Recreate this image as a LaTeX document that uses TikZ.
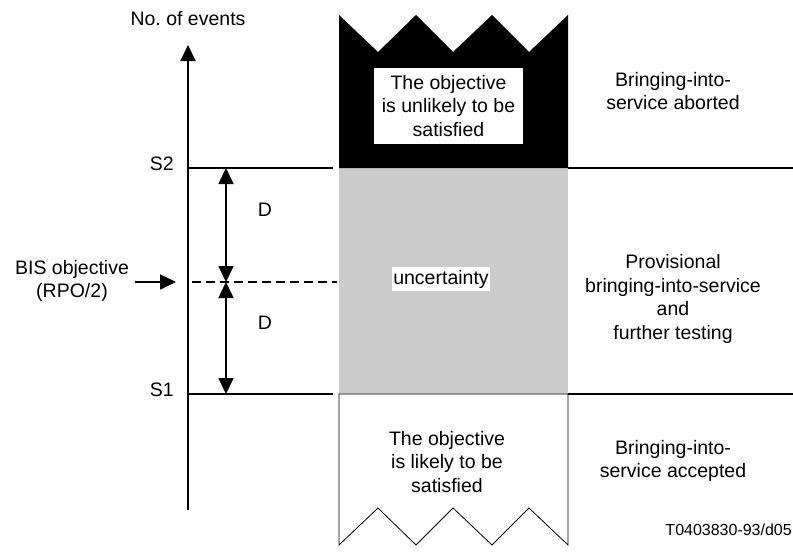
\documentclass[tikz,border=0pt]{standalone}
\usepackage{fontspec}
\setmainfont{Liberation Sans}
\usetikzlibrary{arrows.meta}
\frenchspacing
\begin{document}
\begin{tikzpicture}[x=1pt,y=-1pt,
  lbl/.style={font=\fontsize{19.5}{23.5}\selectfont, align=center, inner sep=0pt},
  smalllbl/.style={font=\fontsize{16}{19}\selectfont, inner sep=0pt},
  thickline/.style={line width=2pt},
  tip/.style={-{Triangle[length=16pt,width=15pt]}},
  dbl/.style={{Triangle[length=16pt,width=15pt]}-{Triangle[length=16pt,width=15pt]}, line width=1.6pt}
]
\useasboundingbox (0,0) rectangle (793,555);

% axis
\coordinate (axbot) at (188,510);
\coordinate (axtop) at (188,45);
\draw[thickline, tip] (axbot) -- (axtop);
\node[lbl] (events) at (188,19) {No. of events};

% gray uncertainty region
\fill[black!20] (339,168) rectangle (568,394);
\node[lbl, fill=white, inner xsep=1pt, inner ysep=3pt] (unc) at (441,279) {uncertainty};

% black top block
\fill[black] (339,168) -- (339,15) -- (378,52) -- (416,15) -- (453,52) -- (492,15) -- (529,52) -- (568,15) -- (568,168) -- cycle;
\node[lbl, fill=white, minimum width=149pt, minimum height=76pt] (unlikely) at (448.5,106) {The objective\\is unlikely to be\\satisfied};

% white bottom block
\draw[line width=0.8pt] (339,394) -- (339,545) -- (378,508) -- (416,545) -- (453,508) -- (492,545) -- (529,508) -- (568,545) -- (568,394) -- cycle;
\node[lbl] (likely) at (447,462) {The objective\\is likely to be\\satisfied};

% threshold lines
\coordinate (s2a) at (188,168);
\coordinate (s2b) at (333,168);
\coordinate (s2c) at (568,168);
\coordinate (s2d) at (793,168);
\coordinate (s1a) at (188,394);
\coordinate (s1b) at (333,394);
\coordinate (s1c) at (568,394);
\coordinate (s1d) at (793,394);
\draw[thickline] (s2a) -- (s2b);
\draw[thickline] (s2c) -- (s2d);
\draw[thickline] (s1a) -- (s1b);
\draw[thickline] (s1c) -- (s1d);
\node[lbl, anchor=east] (S2) at (174,164) {S2};
\node[lbl, anchor=east] (S1) at (174,390) {S1};

% BIS objective dashed line
\coordinate (bisa) at (192,282);
\coordinate (bisb) at (337,282);
\draw[line width=1.5pt, dash pattern=on 9pt off 5pt] (bisa) -- (bisb);
\node[lbl] (bis) at (72,281) {BIS objective\\(RPO/2)};
\coordinate (bisarr) at (135,282);
\coordinate (bistip) at (176,282);
\draw[line width=1.6pt, tip] (bisarr) -- (bistip);

% D arrows
\coordinate (dtop) at (226,168);
\coordinate (dmid) at (226,282);
\coordinate (dbot) at (226,394);
\draw[dbl] (dtop) -- (dmid);
\draw[dbl] (dmid) -- (dbot);
\node[lbl] (d1) at (265,210) {D};
\node[lbl] (d2) at (265,323) {D};

% right-hand labels
\node[lbl] (aborted) at (673,91) {Bringing-into-\\service aborted};
\node[lbl] (prov) at (673,299) {Provisional\\bringing-into-service\\and\\further testing};
\node[lbl] (accepted) at (673,461) {Bringing-into-\\service accepted};
\node[smalllbl, anchor=east] (ref) at (792,530) {T0403830-93/d05};
\end{tikzpicture}
\end{document}
